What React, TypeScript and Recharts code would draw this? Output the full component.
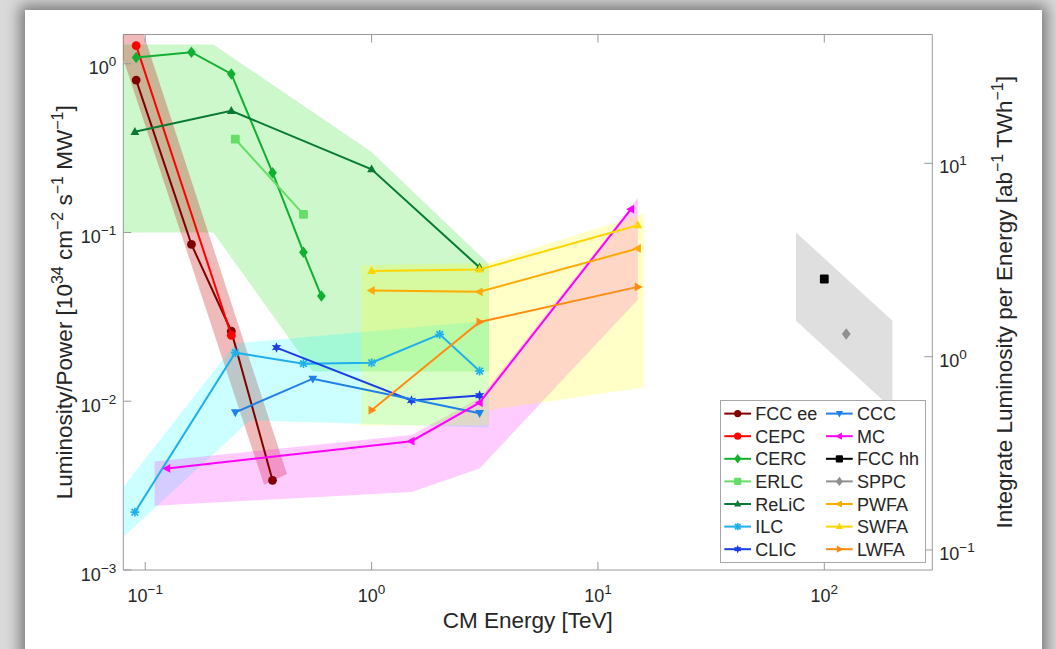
import React from 'react';
import { ComposedChart, Scatter, XAxis, YAxis, Legend } from 'recharts';

const FONT = '"Liberation Sans", Arial, Helvetica, sans-serif';
const AXIS = '#9a9a9a';
const INK = '#262626';

// ---- measured points (CM energy in TeV, luminosity/power) ----
const fccEeE = [0.0912, 0.16, 0.24, 0.365];
const fccEeL = [0.8, 0.085, 0.026, 0.0034];
const cepcE = [0.0912, 0.24];
const cepcL = [1.28, 0.0246];
const cercE = [0.0912, 0.16, 0.24, 0.365, 0.5, 0.6];
const cercL = [1.09, 1.17, 0.87, 0.226, 0.0764, 0.042];
const erlcE = [0.25, 0.5];
const erlcL = [0.357, 0.128];
const relicE = [0.09, 0.24, 1, 3];
const relicL = [0.395, 0.526, 0.237, 0.062];
const ilcE = [0.09, 0.25, 0.5, 1, 2, 3];
const ilcL = [0.0022, 0.0194, 0.0167, 0.0169, 0.0249, 0.0151];
const clicE = [0.38, 1.5, 3];
const clicL = [0.0208, 0.0101, 0.0108];
const cccE = [0.25, 0.55, 3];
const cccL = [0.0086, 0.0136, 0.0085];
const mcE = [0.125, 1.5, 3, 14];
const mcL = [0.004, 0.0058, 0.0098, 0.1375];
const fccHhE = [100];
const fccHhL = [0.053];
const sppcE = [125];
const sppcL = [0.025];
const pwfaE = [1, 3, 15];
const pwfaL = [0.0453, 0.0445, 0.0804];
const swfaE = [1, 3, 15];
const swfaL = [0.0592, 0.0604, 0.1105];
const lwfaE = [1, 3, 15];
const lwfaL = [0.00885, 0.0295, 0.0476];

// ---- shaded bands (polygon corners) ----
const greenBandE = [0.08, 0.2, 1, 3.3, 3.3, 0.55, 0.2, 0.08];
const greenBandL = [1.3, 1.3, 0.3, 0.065, 0.015, 0.015, 0.1, 0.1];
const redBandE = [0.0685, 0.0917, 0.423, 0.335];
const redBandL = [2, 2, 0.0037, 0.0032];
const cyanBandE = [0.08, 0.25, 3.3, 3.3, 0.29, 0.08];
const cyanBandL = [0.0031, 0.022, 0.03, 0.007, 0.0077, 0.00157];
const magentaBandE = [0.11, 1.5, 3, 15, 15, 3, 1.5, 0.11];
const magentaBandL = [0.0044, 0.0063, 0.0104, 0.16, 0.04, 0.004, 0.0029, 0.0024];
const yellowBandE = [0.9, 3.3, 16, 16, 3.3, 3.3, 0.9];
const yellowBandL = [0.064, 0.066, 0.13, 0.0121, 0.00885, 0.0072, 0.0072];
const grayBandE = [75, 200, 200, 75];
const grayBandL = [0.1, 0.03, 0.009, 0.03];

const xTicks = [0.1, 1, 10, 100];
const yTicks = [0.001, 0.01, 0.1, 1];
const rightTicks = [0.1, 1, 10];

const zip = (e: number[], l: number[]) => e.map((x, i) => ({ x, y: l[i] }));

const series = [
  { name: 'FCC ee', e: fccEeE, l: fccEeL, color: '#800000', kind: 'circle' },
  { name: 'CEPC', e: cepcE, l: cepcL, color: '#ff0000', kind: 'circle' },
  { name: 'CERC', e: cercE, l: cercL, color: '#10b030', kind: 'diamond' },
  { name: 'ERLC', e: erlcE, l: erlcL, color: '#66dd66', kind: 'square' },
  { name: 'ReLiC', e: relicE, l: relicL, color: '#087a35', kind: 'up' },
  { name: 'ILC', e: ilcE, l: ilcL, color: '#1eb0ec', kind: 'asterisk' },
  { name: 'CLIC', e: clicE, l: clicL, color: '#1a3ee6', kind: 'hexagram' },
  { name: 'CCC', e: cccE, l: cccL, color: '#1f80e6', kind: 'down' },
  { name: 'MC', e: mcE, l: mcL, color: '#ff00ff', kind: 'left' },
  { name: 'FCC hh', e: fccHhE, l: fccHhL, color: '#000000', kind: 'square' },
  { name: 'SPPC', e: sppcE, l: sppcL, color: '#909090', kind: 'diamond' },
  { name: 'PWFA', e: pwfaE, l: pwfaL, color: '#ffaa00', kind: 'left' },
  { name: 'SWFA', e: swfaE, l: swfaL, color: '#ffd500', kind: 'up' },
  { name: 'LWFA', e: lwfaE, l: lwfaL, color: '#ff8c10', kind: 'right' },
];

const bands = [
  { e: greenBandE, l: greenBandL, fill: '#00dd00', op: 0.2 },
  { e: redBandE, l: redBandL, fill: '#c00000', op: 0.27 },
  { e: cyanBandE, l: cyanBandL, fill: '#00ffff', op: 0.2 },
  { e: magentaBandE, l: magentaBandL, fill: '#ff00ff', op: 0.2 },
  { e: yellowBandE, l: yellowBandL, fill: '#ffff00', op: 0.22 },
  { e: grayBandE, l: grayBandL, fill: '#808080', op: 0.25 },
];

function Marker({ kind, cx, cy, color, s = 4 }: any) {
  if (cx == null || cy == null) return <g />;
  switch (kind) {
    case 'circle':
      return <circle cx={cx} cy={cy} r={s} fill={color} />;
    case 'square':
      return <rect x={cx - s} y={cy - s} width={2 * s} height={2 * s} rx={1.2} fill={color} />;
    case 'diamond':
      return <polygon points={`${cx},${cy - s * 1.3} ${cx + s},${cy} ${cx},${cy + s * 1.3} ${cx - s},${cy}`} fill={color} />;
    case 'up':
      return <polygon points={`${cx},${cy - s * 1.1} ${cx + s},${cy + s * 0.7} ${cx - s},${cy + s * 0.7}`} fill={color} />;
    case 'down':
      return <polygon points={`${cx},${cy + s * 1.1} ${cx + s},${cy - s * 0.7} ${cx - s},${cy - s * 0.7}`} fill={color} />;
    case 'left':
      return <polygon points={`${cx - s * 1.1},${cy} ${cx + s * 0.7},${cy - s} ${cx + s * 0.7},${cy + s}`} fill={color} />;
    case 'right':
      return <polygon points={`${cx + s * 1.1},${cy} ${cx - s * 0.7},${cy - s} ${cx - s * 0.7},${cy + s}`} fill={color} />;
    case 'asterisk': {
      const d = s * 0.75;
      return (
        <g stroke={color} strokeWidth={1.7}>
          <line x1={cx - s} y1={cy} x2={cx + s} y2={cy} />
          <line x1={cx} y1={cy - s} x2={cx} y2={cy + s} />
          <line x1={cx - d} y1={cy - d} x2={cx + d} y2={cy + d} />
          <line x1={cx - d} y1={cy + d} x2={cx + d} y2={cy - d} />
        </g>
      );
    }
    case 'hexagram': {
      const pts = [];
      for (let i = 0; i < 12; i++) {
        const r = i % 2 === 0 ? s * 1.2 : s * 0.6;
        const a = (Math.PI / 6) * i - Math.PI / 2;
        pts.push(`${cx + r * Math.cos(a)},${cy + r * Math.sin(a)}`);
      }
      return <polygon points={pts.join(' ')} fill={color} />;
    }
    default:
      return <circle cx={cx} cy={cy} r={s} fill={color} />;
  }
}

const expText = (v: number) => {
  const p = Math.round(Math.log10(v));
  return p < 0 ? '\u2212' + -p : String(p);
};

const Pow = ({ x, y, v, anchor }: any) => (
  <text x={x} y={y} textAnchor={anchor} fill={INK} fontSize={18} fontFamily={FONT}>
    10<tspan fontSize={13.5} dy={-8}>{expText(v)}</tspan>
  </text>
);

const BottomTick = ({ x, y, payload }: any) => (
  <g>
    <line x1={x} x2={x} y1={y} y2={y - 8} stroke={AXIS} />
    <Pow x={x} y={y + 32} v={payload.value} anchor="middle" />
  </g>
);

const TopTick = ({ x, y }: any) => (
  <line x1={x} x2={x} y1={y} y2={y + 8} stroke={AXIS} />
);

const LeftTick = ({ x, y, payload }: any) => (
  <g>
    <line x1={x} x2={x + 8} y1={y} y2={y} stroke={AXIS} />
    <Pow x={x - 7} y={y + 10.5} v={payload.value} anchor="end" />
  </g>
);

const RightTick = ({ x, y, payload }: any) => (
  <g>
    <line x1={x} x2={x - 8} y1={y} y2={y} stroke={AXIS} />
    <Pow x={x + 7} y={y + 10} v={payload.value} anchor="start" />
  </g>
);

const SUP = 16;
const RISE = 9;

const XTitle = (props: any) => {
  const vb = props.viewBox || {};
  return (
    <text x={vb.x + vb.width / 2} y={vb.y + 58} textAnchor="middle" fontSize={22.5} fill={INK} fontFamily={FONT}>
      CM Energy [TeV]
    </text>
  );
};

const LeftTitle = (props: any) => {
  const vb = props.viewBox || {};
  const cy = vb.y + vb.height / 2;
  const x = 72;
  return (
    <text x={x} y={cy} transform={`rotate(-90 ${x} ${cy})`} textAnchor="middle" fontSize={22.5} fill={INK} fontFamily={FONT}>
      Luminosity/Power [10
      <tspan fontSize={SUP} dy={-RISE}>34</tspan>
      <tspan dy={RISE}> cm</tspan>
      <tspan fontSize={SUP} dy={-RISE}>{'\u22122'}</tspan>
      <tspan dy={RISE}> s</tspan>
      <tspan fontSize={SUP} dy={-RISE}>{'\u22121'}</tspan>
      <tspan dy={RISE}> MW</tspan>
      <tspan fontSize={SUP} dy={-RISE}>{'\u22121'}</tspan>
      <tspan dy={RISE}>]</tspan>
    </text>
  );
};

const RightTitle = (props: any) => {
  const vb = props.viewBox || {};
  const cy = vb.y + vb.height / 2;
  const x = vb.x + 79.7;
  return (
    <text x={x} y={cy} transform={`rotate(-90 ${x} ${cy})`} textAnchor="middle" fontSize={22.5} fill={INK} fontFamily={FONT}>
      Integrate Luminosity per Energy [ab
      <tspan fontSize={SUP} dy={-RISE}>{'\u22121'}</tspan>
      <tspan dy={RISE}> TWh</tspan>
      <tspan fontSize={SUP} dy={-RISE}>{'\u22121'}</tspan>
      <tspan dy={RISE}>]</tspan>
    </text>
  );
};

const LegendBox = () => (
  <svg width={206} height={163} style={{ display: 'block', fontFamily: FONT }}>
    <rect x={0.5} y={0.5} width={205} height={162} fill="#fff" stroke="#a8a8a8" />
    {series.map((s, i) => {
      const col = i < 7 ? 0 : 1;
      const row = i % 7;
      const x0 = col ? 106 : 4.3;
      const cy = 13.6 + row * 22.6;
      return (
        <g key={s.name}>
          <line x1={x0} x2={x0 + 26.7} y1={cy} y2={cy} stroke={s.color} strokeWidth={2} />
          <Marker kind={s.kind} cx={x0 + 13.4} cy={cy} color={s.color} s={3.6} />
          <text x={x0 + 31} y={cy + 6.5} fontSize={18} fill={INK}>{s.name}</text>
        </g>
      );
    })}
  </svg>
);

export default function App() {
  return (
    <div style={{ position: 'absolute', left: 0, top: 0, width: 1056, height: 649, overflow: 'hidden', background: '#dadada' }}>
      <div
        style={{
          position: 'absolute', left: 25, top: 10, width: 1017, height: 700,
          background: '#ffffff', boxShadow: '0 0 14px 5px rgba(0,0,0,0.45)',
        }}
      />
      <div style={{ position: 'absolute', left: 0, top: 0 }}>
        <ComposedChart
          width={1056}
          height={649}
          margin={{ top: 24.5, right: 0, bottom: 0, left: 0 }}
          style={{ fontFamily: FONT }}
        >
          <XAxis
            xAxisId="b" dataKey="x" type="number" scale="log" domain={[0.08, 300]} allowDataOverflow
            ticks={xTicks} interval={0} height={79} tickSize={0} tickMargin={0}
            axisLine={{ stroke: AXIS }} tickLine={false} tick={<BottomTick />} label={XTitle}
          />
          <XAxis
            xAxisId="t" orientation="top" dataKey="x" type="number" scale="log" domain={[0.08, 300]} allowDataOverflow
            ticks={xTicks} interval={0} height={10} tickSize={0} tickMargin={0}
            axisLine={{ stroke: AXIS }} tickLine={false} tick={<TopTick />}
          />
          <YAxis
            yAxisId="l" dataKey="y" type="number" scale="log" domain={[0.001, 1.49]} allowDataOverflow
            ticks={yTicks} interval={0} width={123.3} tickSize={0} tickMargin={0}
            axisLine={{ stroke: AXIS }} tickLine={false} tick={<LeftTick />} label={LeftTitle}
          />
          <YAxis
            yAxisId="r" orientation="right" dataKey="y" type="number" scale="log" domain={[0.0788, 46.4]} allowDataOverflow
            ticks={rightTicks} interval={0} width={123.7} tickSize={0} tickMargin={0}
            axisLine={{ stroke: AXIS }} tickLine={false} tick={<RightTick />} label={RightTitle}
          />

          {bands.map((b, i) => (
            <Scatter
              key={`band-${i}`}
              xAxisId="b"
              yAxisId="l"
              data={zip(b.e, b.l)}
              legendType="none"
              isAnimationActive={false}
              shape={() => <g />}
              line={(p: any) => (
                <polygon
                  points={(p.points || []).map((pt: any) => `${pt.x},${pt.y}`).join(' ')}
                  fill={b.fill}
                  fillOpacity={b.op}
                  stroke="none"
                />
              )}
            />
          ))}

          {series.map((s) => (
            <Scatter
              key={s.name}
              name={s.name}
              xAxisId="b"
              yAxisId="l"
              data={zip(s.e, s.l)}
              fill={s.color}
              isAnimationActive={false}
              line={{ stroke: s.color, strokeWidth: 2 }}
              lineType="joint"
              shape={(p: any) => <Marker kind={s.kind} cx={p.cx} cy={p.cy} color={s.color} s={4.4} />}
            />
          ))}

          <Legend
            layout="horizontal"
            verticalAlign="middle"
            align="center"
            wrapperStyle={{ left: 720.2, top: 400.2, width: 206, height: 163 }}
            content={() => <LegendBox />}
          />
        </ComposedChart>
      </div>
    </div>
  );
}
